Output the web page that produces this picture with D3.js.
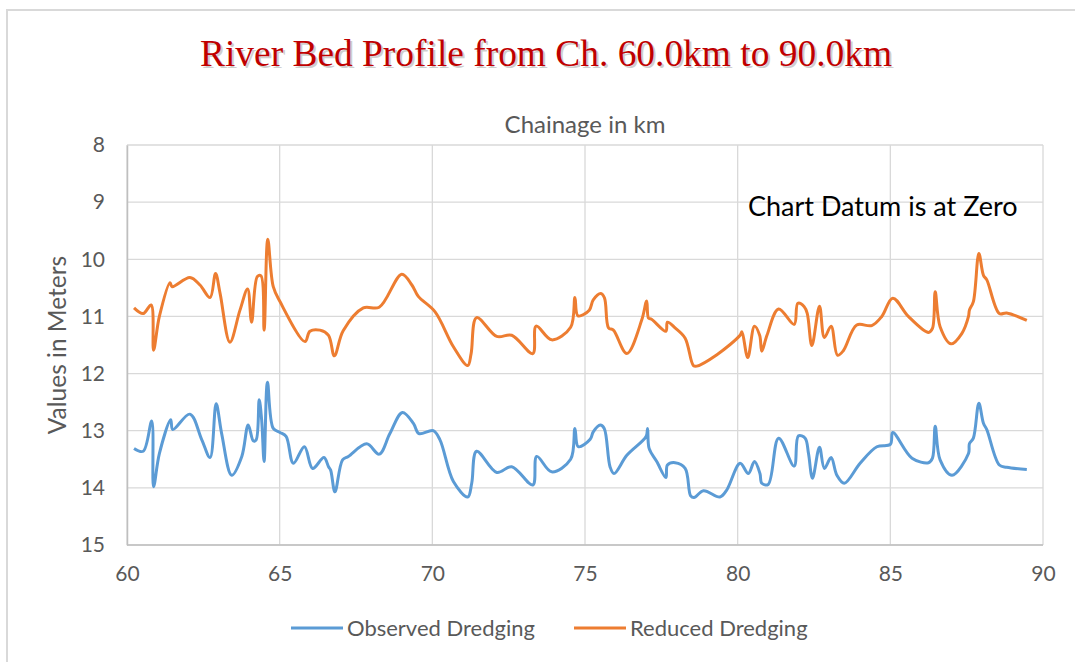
<html>
<head>
<meta charset="utf-8">
<script src="https://d3js.org/d3.v7.min.js"></script>
<style>
  body { margin: 0; background: #fff; }
  svg { display: block; }
</style>
</head>
<body>
<svg></svg>
<script>
// chainage (km) and bed level (m)
const obsKm = [60.23,60.53,60.81,60.87,61.06,61.43,61.50,62.06,62.45,62.72,62.92,63.10,63.43,63.76,63.97,64.14,64.23,64.33,64.41,64.49,64.60,64.79,65.01,65.21,65.45,65.81,66.08,66.45,66.60,66.67,66.81,67.06,67.25,67.85,68.26,68.61,69.02,69.38,69.56,70.03,70.25,70.69,71.16,71.29,71.45,72.11,72.60,73.29,73.42,73.91,74.53,74.67,74.78,75.17,75.27,75.50,75.63,75.82,75.95,76.37,77.00,77.05,77.10,77.35,77.65,77.70,77.95,78.28,78.46,78.57,78.88,79.42,79.64,80.08,80.35,80.55,80.73,80.79,81.00,81.34,81.85,81.99,82.21,82.32,82.45,82.68,82.84,83.06,83.25,83.49,84.01,84.56,85.00,85.08,85.71,86.25,86.38,86.47,86.63,87.02,87.56,87.59,87.72,87.90,88.05,88.16,88.57,88.81,89.47];
const obsVal = [13.31,13.36,12.83,13.98,13.40,12.81,12.98,12.71,13.16,13.47,12.53,13.05,13.78,13.45,12.90,13.18,13.16,12.46,12.81,13.54,12.15,12.96,13.03,13.10,13.57,13.28,13.66,13.47,13.63,13.69,14.07,13.51,13.45,13.23,13.41,13.05,12.68,12.87,13.05,13.00,13.16,13.89,14.16,13.92,13.36,13.73,13.63,13.95,13.45,13.72,13.50,12.96,13.28,13.15,13.02,12.90,12.96,13.63,13.75,13.43,13.10,12.96,13.31,13.54,13.82,13.60,13.56,13.66,14.14,14.17,14.05,14.16,14.04,13.57,13.75,13.54,13.75,13.92,13.94,13.13,13.62,13.09,13.13,13.40,13.83,13.29,13.66,13.47,13.78,13.92,13.57,13.28,13.24,13.03,13.48,13.56,13.48,12.92,13.51,13.78,13.40,13.23,13.13,12.52,12.87,12.98,13.60,13.64,13.68];

const redKm = [60.23,60.53,60.79,60.87,61.06,61.41,61.48,62.06,62.39,62.72,62.90,63.05,63.37,63.70,63.95,64.08,64.27,64.39,64.49,64.61,64.79,65.01,65.83,65.99,66.32,66.60,66.79,67.08,67.74,68.26,69.00,69.33,69.54,70.09,70.69,71.16,71.27,71.45,72.11,72.60,73.29,73.40,73.91,74.53,74.67,74.77,75.14,75.27,75.52,75.64,75.77,75.93,76.37,76.86,77.02,77.08,77.18,77.65,77.70,77.95,78.28,78.55,78.66,79.32,80.08,80.14,80.33,80.55,80.72,80.79,80.96,81.34,81.85,81.97,82.18,82.28,82.43,82.68,82.84,83.06,83.27,83.46,83.90,84.39,84.72,85.08,85.59,86.25,86.38,86.47,86.63,86.99,87.34,87.56,87.59,87.72,87.90,88.05,88.16,88.57,88.81,89.47];
const redVal = [10.85,10.95,10.80,11.59,11.00,10.41,10.48,10.32,10.45,10.67,10.25,10.60,11.45,10.89,10.52,11.10,10.30,10.29,11.24,9.65,10.48,10.74,11.44,11.26,11.24,11.33,11.69,11.25,10.85,10.84,10.26,10.45,10.65,10.92,11.53,11.86,11.65,11.02,11.35,11.33,11.65,11.17,11.41,11.19,10.67,10.99,10.89,10.71,10.60,10.68,11.20,11.24,11.65,11.06,10.73,11.03,11.05,11.26,11.10,11.20,11.38,11.86,11.87,11.67,11.33,11.27,11.72,11.17,11.33,11.61,11.33,10.87,11.14,10.77,10.83,10.95,11.51,10.82,11.37,11.17,11.68,11.60,11.15,11.16,11.00,10.68,11.00,11.28,11.21,10.57,11.18,11.48,11.30,11.00,10.89,10.74,9.90,10.28,10.36,10.95,10.94,11.07];

const xTicks = [60, 65, 70, 75, 80, 85, 90];
const yTicks = [8, 9, 10, 11, 12, 13, 14, 15];
const seriesNames = ["Observed Dredging", "Reduced Dredging"];
const seriesColors = ["#5B9BD5", "#ED7D31"];

const W = 1075, H = 662;
const plotL = 127, plotR = 1043, plotT = 145, plotB = 545;
const font = "Lato, 'Open Sans', sans-serif";

const svg = d3.select("svg").attr("width", W).attr("height", H);

// chart frame
svg.append("rect")
  .attr("x", 7).attr("y", 10)
  .attr("width", W + 20).attr("height", H + 20)
  .attr("fill", "#fff").attr("stroke", "#d9d9d9").attr("stroke-width", 2);

const x = d3.scaleLinear().domain([60, 90]).range([plotL, plotR]);
const y = d3.scaleLinear().domain([8, 15]).range([plotT, plotB]);

// grid
svg.append("g").selectAll("line").data(xTicks).join("line")
  .attr("x1", d => x(d)).attr("x2", d => x(d))
  .attr("y1", plotT).attr("y2", plotB)
  .attr("stroke", "#d9d9d9").attr("stroke-width", 1.3);
svg.append("g").selectAll("line").data(yTicks).join("line")
  .attr("x1", plotL).attr("x2", plotR)
  .attr("y1", d => y(d)).attr("y2", d => y(d))
  .attr("stroke", "#d9d9d9").attr("stroke-width", 1.3);

// axes
const yAxis = svg.append("g").attr("transform", "translate(" + plotL + ",0)")
  .call(d3.axisLeft(y).tickValues(yTicks).tickFormat(d3.format("d")).tickSize(0).tickPadding(22));
const xAxis = svg.append("g").attr("transform", "translate(0," + plotB + ")")
  .call(d3.axisBottom(x).tickValues(xTicks).tickFormat(d3.format("d")).tickSize(0).tickPadding(21));
[xAxis, yAxis].forEach(a => {
  a.select(".domain").attr("stroke", "#bfbfbf").attr("stroke-width", 1.5);
  a.selectAll("text").attr("fill", "#595959")
    .style("font-family", font).style("font-size", "21px");
});
xAxis.select(".domain").remove();
svg.append("line").attr("x1", plotL).attr("x2", plotR).attr("y1", plotB).attr("y2", plotB)
  .attr("stroke", "#bfbfbf").attr("stroke-width", 1.5);

// lines
const line = d3.line()
  .x(d => x(d[0])).y(d => y(d[1]))
  .curve(d3.curveCatmullRom.alpha(0.5));
const series = [d3.zip(obsKm, obsVal), d3.zip(redKm, redVal)];
series.forEach((s, i) => {
  svg.append("path").datum(s)
    .attr("fill", "none")
    .attr("stroke", seriesColors[i])
    .attr("stroke-width", 3)
    .attr("stroke-linejoin", "round")
    .attr("d", line);
});

// title with soft shadow
const title = "River Bed Profile from Ch. 60.0km to 90.0km";
const titleFont = "'Liberation Serif', 'Times New Roman', serif";
svg.append("text").text(title)
  .attr("x", 548).attr("y", 68).attr("text-anchor", "middle")
  .attr("textLength", 692).attr("lengthAdjust", "spacingAndGlyphs")
  .attr("fill", "#888").attr("opacity", 0.4)
  .style("font-family", titleFont).style("font-size", "38px");
svg.append("text").text(title)
  .attr("x", 546).attr("y", 66).attr("text-anchor", "middle")
  .attr("textLength", 692).attr("lengthAdjust", "spacingAndGlyphs")
  .attr("fill", "#C00000")
  .style("font-family", titleFont).style("font-size", "38px");

// axis titles
svg.append("text").text("Chainage in km")
  .attr("x", 585).attr("y", 133).attr("text-anchor", "middle")
  .attr("fill", "#595959").style("font-family", font).style("font-size", "24px");
svg.append("text").text("Values in Meters")
  .attr("transform", "translate(66,345) rotate(-90)").attr("text-anchor", "middle")
  .attr("fill", "#595959").style("font-family", font).style("font-size", "24.5px");

// note
svg.append("text").text("Chart Datum is at Zero")
  .attr("x", 748).attr("y", 216)
  .attr("fill", "#000").style("font-family", font).style("font-size", "27px");

// legend
const legendX = [291, 574];
seriesNames.forEach((n, i) => {
  svg.append("line")
    .attr("x1", legendX[i]).attr("x2", legendX[i] + 52)
    .attr("y1", 628).attr("y2", 628)
    .attr("stroke", seriesColors[i]).attr("stroke-width", 3);
  svg.append("text").text(n)
    .attr("x", legendX[i] + 56).attr("y", 636)
    .attr("fill", "#595959").style("font-family", font).style("font-size", "22px");
});
</script>
</body>
</html>
